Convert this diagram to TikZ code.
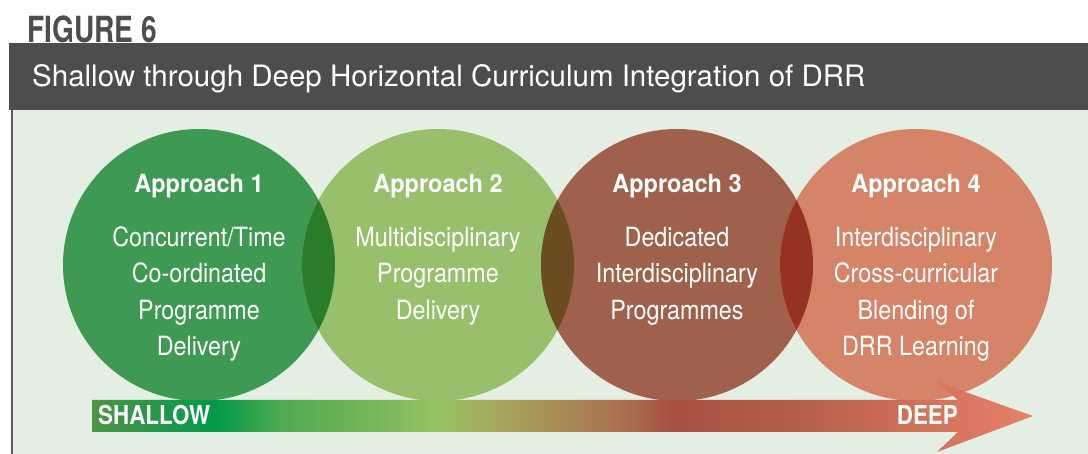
\documentclass[tikz,border=0pt]{standalone}
\usepackage{fontspec}
\setmainfont{TeX Gyre Heros}
\newfontfamily\narrowfont[FakeStretch=0.88]{TeX Gyre Heros}
\newfontfamily\headfont[FakeStretch=0.94]{TeX Gyre Heros}
\newfontfamily\endfont[FakeStretch=0.86]{TeX Gyre Heros}
\newfontfamily\figfont[FakeStretch=0.78]{TeX Gyre Heros}
\definecolor{figgray}{HTML}{4D4D4F}
\definecolor{panelbg}{HTML}{E4EEE3}
\definecolor{edgegray}{HTML}{5C5C5C}
\definecolor{appone}{HTML}{3E9A52}
\definecolor{apptwo}{HTML}{98BF6C}
\definecolor{appthree}{HTML}{A0614C}
\definecolor{appfour}{HTML}{D58467}
\definecolor{lensa}{HTML}{2A7B2A}
\definecolor{lensb}{HTML}{6A4B22}
\definecolor{lensc}{HTML}{963222}
% arrow gradient stops
\definecolor{sa}{HTML}{4E9446}
\definecolor{sb}{HTML}{009A4A}
\definecolor{sc}{HTML}{4FAA50}
\definecolor{sd}{HTML}{7BB85A}
\definecolor{se}{HTML}{98C463}
\definecolor{sf}{HTML}{A6A75C}
\definecolor{sg}{HTML}{AA8B55}
\definecolor{sh}{HTML}{AB6D4F}
\definecolor{si}{HTML}{A85040}
\definecolor{sj}{HTML}{B45D4A}
\definecolor{sk}{HTML}{D16F58}
\definecolor{sl}{HTML}{E5816A}
\pgfdeclarehorizontalshading{depthshade}{100bp}{%
  color(0bp)=(sa); color(25bp)=(sa); color(31.5bp)=(sb); color(35bp)=(sc);
  color(40.5bp)=(sd); color(43.5bp)=(se); color(46.5bp)=(sf); color(50bp)=(sg);
  color(53.5bp)=(sh); color(55.75bp)=(si); color(62bp)=(sj); color(68.5bp)=(sk);
  color(75bp)=(sl); color(100bp)=(sl)}
\tikzset{
  approach/.style={circle, minimum size=272pt, inner sep=0pt},
  headtext/.style={text=white, inner sep=0pt, font=\headfont\bfseries\fontsize{25}{30}\selectfont},
  bodytext/.style={text=white, inner sep=0pt, align=center, font=\narrowfont\fontsize{26.5}{36.5}\selectfont},
  endtext/.style={text=white, inner sep=0pt, font=\endfont\bfseries\fontsize{26}{30}\selectfont}
}
\begin{document}
\begin{tikzpicture}[x=1pt, y=-1pt]
        \useasboundingbox (0,0) rectangle (1088,454);
        % Heading and panel
        \fill[panelbg] (12,108) rectangle (1088,454);
        \draw[edgegray, line width=1.6pt] (12,108) -- (12,454);
        \fill[figgray] (9,43) rectangle (1088,110);
        \node[anchor=base west, inner sep=0pt, text=figgray, font=\figfont\bfseries\fontsize{36}{40}\selectfont] (fig) at (27,43) {FIGURE 6};
        \node[anchor=base west, inner sep=0pt, text=white, font=\fontsize{29.5}{34}\selectfont] (title) at (32,87) {Shallow through Deep Horizontal Curriculum Integration of DRR};
        
        % Circles
        \node[approach, fill=appone] (app1) at (199,265) {};
        \node[approach, fill=apptwo] (app2) at (438,265) {};
        \node[approach, fill=appthree] (app3) at (677,265) {};
        \node[approach, fill=appfour] (app4) at (916,265) {};
        
        % Overlaps
        \begin{scope}
            \clip (app1.center) circle (136pt);
            \fill[lensa] (app2.center) circle (136pt);
        \end{scope}
        \begin{scope}
            \clip (app2.center) circle (136pt);
            \fill[lensb] (app3.center) circle (136pt);
        \end{scope}
        \begin{scope}
            \clip (app3.center) circle (136pt);
            \fill[lensc] (app4.center) circle (136pt);
        \end{scope}
        
        % Circle texts
        \node[headtext, anchor=base] (h1) at ([yshift=72pt]app1.center) {Approach 1};
        \node[headtext, anchor=base] (h2) at ([yshift=72pt]app2.center) {Approach 2};
        \node[headtext, anchor=base] (h3) at ([yshift=72pt]app3.center) {Approach 3};
        \node[headtext, anchor=base] (h4) at ([yshift=72pt]app4.center) {Approach 4};
        
        \node[bodytext, anchor=north] (b1) at ([yshift=44.5pt]app1.center) {\strut Concurrent/Time\\Co-ordinated\\Programme\\Delivery};
        \node[bodytext, anchor=north] (b2) at ([yshift=44.5pt]app2.center) {\strut Multidisciplinary\\Programme\\Delivery};
        \node[bodytext, anchor=north] (b3) at ([yshift=44.5pt]app3.center) {\strut Dedicated\\Interdisciplinary\\Programmes};
        \node[bodytext, anchor=north] (b4) at ([yshift=44.5pt]app4.center) {\strut Interdisciplinary\\Cross-curricular\\Blending of\\DRR Learning};
        
        % Shallow to deep arrow
        \shade[shading=depthshade] (92,400) -- (958,400) -- (937,382) -- (1033,416)
            -- (937,452) -- (958,432) -- (92,432) -- cycle;
        \node[endtext, anchor=base west] (shallow) at (98,425) {SHALLOW};
        \node[endtext, anchor=base east] (deep) at (958,425) {DEEP};
\end{tikzpicture}
\end{document}
